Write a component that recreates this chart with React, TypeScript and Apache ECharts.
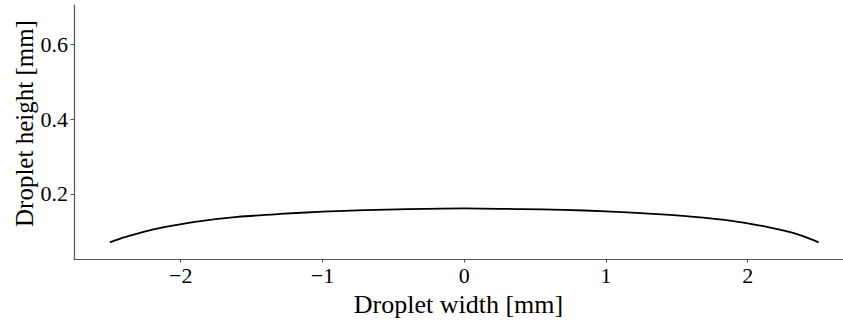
import React, { useEffect, useRef } from "react";
import * as echarts from "echarts";

const xValues = [-2.5, -2.4, -2.3, -2.2, -2.1, -1.9, -1.6, -1.3, -1.0, -0.7, -0.4, 0, 0.4, 0.7, 1.0, 1.3, 1.6, 1.9, 2.1, 2.2, 2.3, 2.4, 2.5];
const yValues = [0.070, 0.083, 0.094, 0.104, 0.112, 0.125, 0.138, 0.146, 0.152, 0.156, 0.159, 0.161, 0.159, 0.157, 0.153, 0.147, 0.139, 0.127, 0.114, 0.106, 0.097, 0.085, 0.070];
const xTicks = [-2, -1, 0, 1, 2];
const yTicks = [0.2, 0.4, 0.6];
const xTitle = "Droplet width [mm]";
const yTitle = "Droplet height [mm]";

const FONT = "Liberation Serif";
const AXIS_COLOR = "#555";

export default function App() {
  const ref = useRef<HTMLDivElement>(null);
  useEffect(() => {
    if (!ref.current) return;
    const chart = echarts.init(ref.current, null, { renderer: "svg" });
    const fmt = (v: number) => {
      const s = Number.isInteger(v) ? String(Math.abs(v)) : Math.abs(v).toFixed(1);
      return v < 0 ? "\u2212" + s : s;
    };
    const labelStyle = {
      fontFamily: FONT,
      fontSize: 22,
      color: "#000",
      margin: 6,
    };
    chart.setOption({
      animation: false,
      backgroundColor: "#fff",
      textStyle: { fontFamily: FONT, fontSize: 22, color: "#000" },
      grid: { left: 74, top: 5, right: 0, bottom: 60, containLabel: false },
      xAxis: {
        type: "value",
        min: -2.753,
        max: 2.672,
        splitLine: { show: false },
        axisLine: { show: true, onZero: false, lineStyle: { color: AXIS_COLOR, width: 1.2 } },
        axisTick: { show: true, customValues: xTicks, length: 3.5, lineStyle: { color: AXIS_COLOR } },
        axisLabel: {
          ...labelStyle,
          margin: 5,
          customValues: xTicks,
          formatter: (v: number) => fmt(v),
        },
        name: xTitle,
        nameLocation: "middle",
        nameGap: 22,
        nameTextStyle: { fontFamily: FONT, fontSize: 26, color: "#000", verticalAlign: "top" },
      },
      yAxis: {
        type: "value",
        min: 0.025,
        max: 0.706,
        splitLine: { show: false },
        axisLine: { show: true, onZero: false, lineStyle: { color: AXIS_COLOR, width: 1.2 } },
        axisTick: { show: true, customValues: yTicks, length: 3.5, lineStyle: { color: AXIS_COLOR } },
        axisLabel: {
          ...labelStyle,
          customValues: yTicks,
          formatter: (v: number) => fmt(v),
        },
      },
      graphic: [
        {
          type: "text",
          x: 24.5,
          y: 123.5,
          rotation: Math.PI / 2,
          style: {
            text: yTitle,
            fontFamily: FONT,
            fontSize: 25,
            fill: "#000",
            align: "center",
            verticalAlign: "middle",
          },
        },
      ],
      series: [
        {
          type: "line",
          data: xValues.map((x, i) => [x, yValues[i]]),
          smooth: 0.3,
          showSymbol: false,
          lineStyle: { color: "#000", width: 1.8 },
        },
      ],
    });
    return () => chart.dispose();
  }, []);
  return <div ref={ref} style={{ width: 843, height: 322, position: "absolute", left: 0, top: 0 }} />;
}
